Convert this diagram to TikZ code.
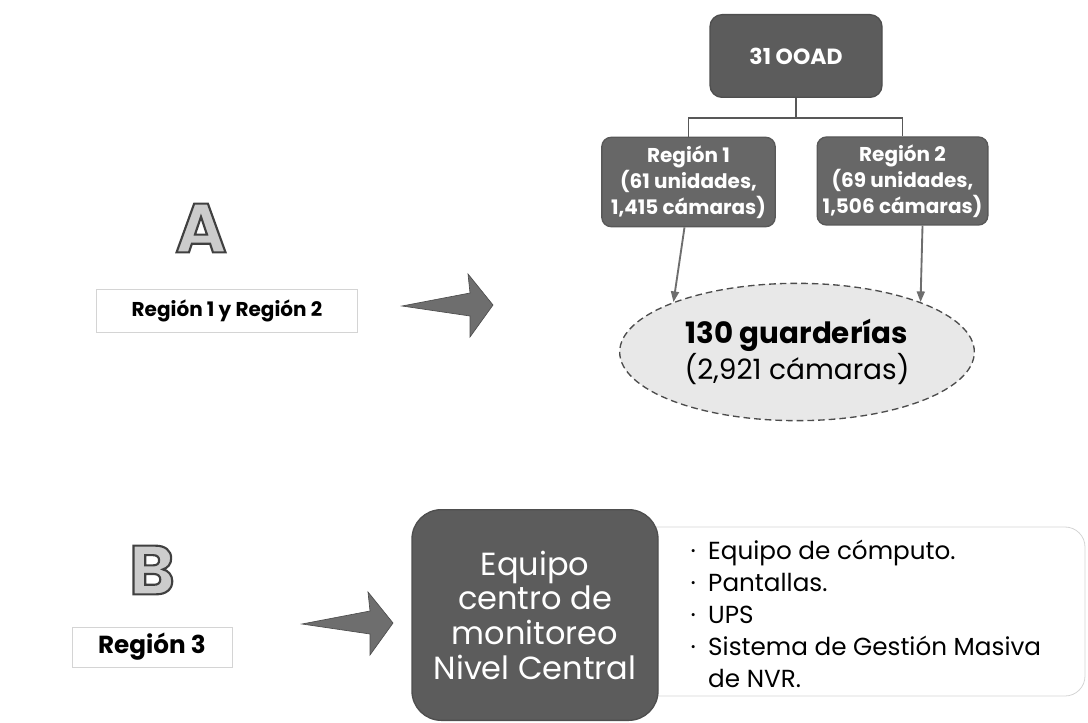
\documentclass[tikz,border=0pt]{standalone}
\usepackage{fontspec}
\setmainfont{Poppins}
\usetikzlibrary{arrows.meta, positioning, shapes.geometric, calc}
\definecolor{cdark}{HTML}{5C5C5C}
\definecolor{cregion}{HTML}{676767}
\definecolor{cfill}{HTML}{E8E8E8}
\definecolor{cline}{HTML}{6E6E6E}
\definecolor{cedge}{HTML}{D4D4D4}
\tikzset{
  every picture/.style={line width=1pt},
  darkbox/.style={draw=#1!85!black, fill=#1, rounded corners=9pt, text=white, align=center, inner sep=0pt},
  darkbox/.default=cdark,
  labelbox/.style={draw=cedge, line width=0.6pt, align=center, inner sep=0pt},
  link/.style={-{Triangle[length=8pt, width=6pt]}, draw=cline, line width=1.4pt},
  tree/.style={draw=cline!80!black, line width=1.1pt},
  bigarrow/.style={fill=cline, draw=cline!70!black, line width=0.5pt},
  letter/.style={font=\bfseries\fontsize{52}{52}\selectfont, text=gray!40},
}
% outlined letter: fill and stroke
\newcommand{\hollow}[1]{\special{pdf:literal direct q 2 Tr 1.6 w 0.25 0.25 0.25 RG}#1\special{pdf:literal direct Q}}

\begin{document}
\begin{tikzpicture}[x=0.75pt, y=-0.75pt]
  \useasboundingbox (0,0) rectangle (1088,723);
  % (A) Region 1 y Region 2
  \node[letter] (letA) at (201,228) {\hollow{A}};
  \node[labelbox, minimum width=196pt, minimum height=32pt, font=\bfseries\fontsize{15}{18}\selectfont] (labA) at (227,311) {Región 1 y Región 2};
  \node[darkbox, minimum width=129pt, minimum height=62pt, font=\bfseries\fontsize{16.5}{18}\selectfont] (ooad) at (796,56) {31 OOAD};
  \node[darkbox=cregion, minimum width=130pt, minimum height=67pt, rounded corners=7pt, font=\bfseries\fontsize{15}{19.5}\selectfont] (reg1) at (688.5,182) {Región 1\\(61 unidades,\\1,415 cámaras)};
  \node[darkbox=cregion, minimum width=128pt, minimum height=66pt, rounded corners=7pt, font=\bfseries\fontsize{15}{19.5}\selectfont] (reg2) at (902.5,181) {Región 2\\(69 unidades,\\1,506 cámaras)};
  \node[ellipse, draw=black!70, dashed, dash pattern=on 5pt off 3pt, fill=cfill, minimum width=266pt, minimum height=103pt, align=center, inner sep=0pt] (guard) at (797,352)
    {{\bfseries\fontsize{22}{26}\selectfont 130 guarderías}\\{\fontsize{21}{26}\selectfont (2,921 cámaras)}};
  \draw[tree] (ooad.south) -- ++(0,20) coordinate (split);
  \draw[tree] (split) -| (reg1.north);
  \draw[tree] (split) -| (reg2.north);
  \draw[link] ([xshift=-3pt]reg1.south) -- (guard.158);
  \draw[link] ([xshift=15pt]reg2.south) -- (guard.22);
  % (B) Region 3
  \node[letter] (letB) at (152,570) {\hollow{B}};
  \node[labelbox, minimum width=120pt, minimum height=30pt, font=\bfseries\fontsize{18.5}{20}\selectfont] (labB) at (152,647) {Región 3};
  \draw[labelbox, rounded corners=15pt] (600,527) rectangle (1085,696);
  \node[darkbox, minimum width=184.5pt, minimum height=158pt, rounded corners=22pt, font=\fontsize{24}{26}\selectfont] (central) at (535,615) {Equipo\\centro de\\monitoreo\\Nivel Central};
  \node[anchor=north west, align=left, inner sep=0pt, font=\fontsize{18.5}{24}\selectfont] (items) at (690,539)
    {·\enspace Equipo de cómputo.\\·\enspace Pantallas.\\·\enspace UPS\\·\enspace Sistema de Gestión Masiva\\\phantom{·}\enspace de NVR.};
  % block arrows
  \foreach \tip in {(493,305), (393,623)}
    \filldraw[bigarrow] \tip +(-91,1) -- +(-23,-12) -- +(-25,-31) -- +(0,0) -- +(-23,32) -- +(-23,11) -- cycle;
\end{tikzpicture}
\end{document}
